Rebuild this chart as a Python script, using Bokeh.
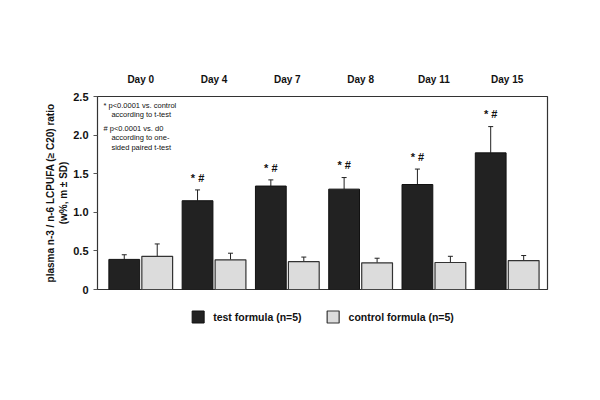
from bokeh.plotting import figure
from bokeh.models import (ColumnDataSource, Whisker, TeeHead, Legend, LegendItem,
                          FixedTicker, NumeralTickFormatter, Label, Range1d)
from bokeh.core.properties import value
from bokeh.embed import file_html
from bokeh.resources import INLINE

# ---- data ----
days = ["Day 0", "Day 4", "Day 7", "Day 8", "Day 11", "Day 15"]
test_mean = [0.39, 1.15, 1.34, 1.30, 1.36, 1.77]
test_sd = [0.06, 0.14, 0.08, 0.15, 0.20, 0.34]
control_mean = [0.43, 0.385, 0.36, 0.345, 0.35, 0.375]
control_sd = [0.16, 0.085, 0.06, 0.06, 0.08, 0.065]
significance = ["", "* #", "* #", "* #", "* #", "* #"]
y_ticks = [0, 0.5, 1.0, 1.5, 2.0, 2.5]
note_lines = ["* p<0.0001 vs. control", "according to t-test",
              "# p<0.0001 vs. d0", "according to one-", "sided paired t-test"]
series_names = ["test formula (n=5)", "control formula (n=5)"]

FONT = "Liberation Sans"
idx = list(range(len(days)))
offset = 0.225
bw = 0.42

test_src = ColumnDataSource(dict(
    x=[i - offset for i in idx], top=test_mean,
    upper=[m + s for m, s in zip(test_mean, test_sd)],
    sig=significance,
    sig_y=[m + s + 0.16 for m, s in zip(test_mean, test_sd)]))
ctrl_src = ColumnDataSource(dict(
    x=[i + offset for i in idx], top=control_mean,
    upper=[m + s for m, s in zip(control_mean, control_sd)]))

p = figure(frame_width=450, frame_height=193, output_backend="svg",
           toolbar_location=None, x_axis_location="above",
           x_range=Range1d(-0.59, 5.55), y_range=Range1d(0, 2.5),
           min_border_left=97, min_border_right=45, min_border_top=96,
           min_border_bottom=10)
p.background_fill_color = "white"
p.border_fill_color = "white"
p.outline_line_color = "#333333"
p.outline_line_width = 1.2
p.grid.visible = False

r_test = p.vbar(x="x", top="top", width=bw, source=test_src,
                fill_color="#222222", line_color="#111111", line_width=1)
r_ctrl = p.vbar(x="x", top="top", width=bw, source=ctrl_src,
                fill_color="#dcdcdc", line_color="#333333", line_width=1.2)

for src in (test_src, ctrl_src):
    w = Whisker(source=src, base="x", lower="top", upper="upper",
                line_color="#222222", line_width=1,
                upper_head=TeeHead(size=5, line_color="#222222", line_width=1),
                lower_head=None)
    p.add_layout(w)

p.text(x="x", y="sig_y", text="sig", source=test_src,
       text_font=value(FONT), text_font_size="11px", text_font_style="bold",
       text_align="center", text_baseline="middle", text_color="#111111")

# notes in upper-left
note_x = [-0.508, -0.40, -0.508, -0.40, -0.40]
note_y = [2.383, 2.263, 2.082, 1.973, 1.839]
for t, nx, ny in zip(note_lines, note_x, note_y):
    p.add_layout(Label(x=nx, y=ny, text=t, text_font=FONT, text_font_size="7.5px",
                       text_baseline="middle", text_color="#111111"))

# top axis with day labels
xa = p.xaxis[0]
xa.ticker = FixedTicker(ticks=idx)
xa.major_label_overrides = {i: d for i, d in zip(idx, days)}
xa.axis_line_color = None
xa.major_tick_line_color = None
xa.minor_tick_line_color = None
xa.major_label_standoff = 6
xa.major_label_text_font = FONT
xa.major_label_text_font_size = "10px"
xa.major_label_text_font_style = "bold"
xa.major_label_text_color = "#111111"

ya = p.yaxis[0]
ya.ticker = FixedTicker(ticks=y_ticks)
ya.formatter = NumeralTickFormatter(format="0.0")
ya.major_label_overrides = {0: "0"}
ya.minor_tick_line_color = None
ya.major_tick_out = 4
ya.major_tick_in = 0
ya.major_tick_line_color = "#555555"
ya.axis_line_color = "#333333"
ya.major_label_standoff = 5
ya.major_label_text_font = FONT
ya.major_label_text_font_size = "11px"
ya.major_label_text_font_style = "bold"
ya.major_label_text_color = "#111111"
ya.axis_label = "plasma n-3 / n-6 LCPUFA (\u2265 C20) ratio\n(w%, m \u00b1 SD)"
ya.axis_label_text_font = FONT
ya.axis_label_text_font_size = "10px"
ya.axis_label_text_font_style = "bold"
ya.axis_label_text_color = "#111111"
ya.axis_label_standoff = 1

legend = Legend(items=[LegendItem(label=series_names[0], renderers=[r_test]),
                       LegendItem(label=series_names[1], renderers=[r_ctrl])],
                orientation="horizontal", location="top_center",
                glyph_width=15, glyph_height=15, label_height=15,
                label_standoff=8, spacing=24, padding=0, margin=20,
                border_line_color=None, background_fill_alpha=0,
                label_text_font=FONT, label_text_font_size="10.5px",
                label_text_font_style="bold", label_text_color="#111111")
p.add_layout(legend, "below")

open("out.html", "w").write(file_html(p, INLINE))
